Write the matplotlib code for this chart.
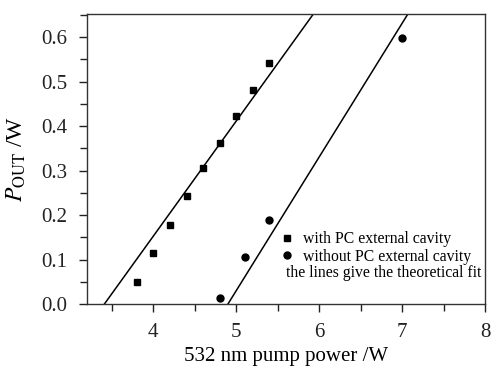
import matplotlib
matplotlib.use("Agg")
import matplotlib.pyplot as plt
from matplotlib.ticker import MultipleLocator

plt.rcParams['font.family'] = ['Liberation Serif', 'DejaVu Serif']
plt.rcParams['mathtext.fontset'] = 'stix'

# data
pump_pc = [3.8, 4.0, 4.2, 4.4, 4.6, 4.8, 5.0, 5.2, 5.4]
pout_pc = [0.050, 0.115, 0.178, 0.242, 0.305, 0.362, 0.423, 0.482, 0.541]
pump_nopc = [4.8, 5.1, 5.4, 7.0]
pout_nopc = [0.013, 0.105, 0.188, 0.598]
# theoretical fit lines (end points)
fit_pc_x = [3.41, 5.93]
fit_pc_y = [0.0, 0.652]
fit_nopc_x = [4.90, 7.07]
fit_nopc_y = [0.0, 0.652]

fig = plt.figure(figsize=(4.92, 3.69), dpi=100)
ax = fig.add_axes([87/492, 1-304/369, (485-87)/492, (304-14)/369])

ax.plot(fit_pc_x, fit_pc_y, color='black', lw=1.1)
ax.plot(fit_nopc_x, fit_nopc_y, color='black', lw=1.1)
ax.plot(pump_pc, pout_pc, 's', color='black', ms=4.5, label='with PC external cavity')
ax.plot(pump_nopc, pout_nopc, 'o', color='black', ms=5, label='without PC external cavity')

ax.set_xlim(3.2, 8)
ax.set_ylim(0, 0.652)
ax.xaxis.set_minor_locator(MultipleLocator(0.5))
ax.yaxis.set_minor_locator(MultipleLocator(0.05))
ax.set_xticks([4, 5, 6, 7, 8])
ax.set_yticks([0.0, 0.1, 0.2, 0.3, 0.4, 0.5, 0.6])
ax.set_yticklabels(['0.0', '0.1', '0.2', '0.3', '0.4', '0.5', '0.6'])
ax.tick_params(which='major', direction='out', length=6, width=1, labelsize=15,
               colors='#222222', pad=8)
ax.tick_params(which='minor', direction='out', length=5, width=1, colors='#222222')
for s in ax.spines.values():
    s.set_color('#333333')
    s.set_linewidth(1)

ax.set_xlabel('532 nm pump power /W', fontsize=15, labelpad=3)
ax.set_ylabel(r'$P_{\rm OUT}$ /W', fontsize=17, labelpad=10)

leg = ax.legend(loc='lower right', bbox_to_anchor=(0.965, 0.135), frameon=False, fontsize=11.3,
                handlelength=0.6, handletextpad=0.7, borderpad=0.0, borderaxespad=0.0,
                labelspacing=0.1)
ax.text(0.99, 0.108, 'the lines give the theoretical fit', transform=ax.transAxes,
        ha='right', va='center', fontsize=11.3)

fig.savefig('out.png', dpi=100)
